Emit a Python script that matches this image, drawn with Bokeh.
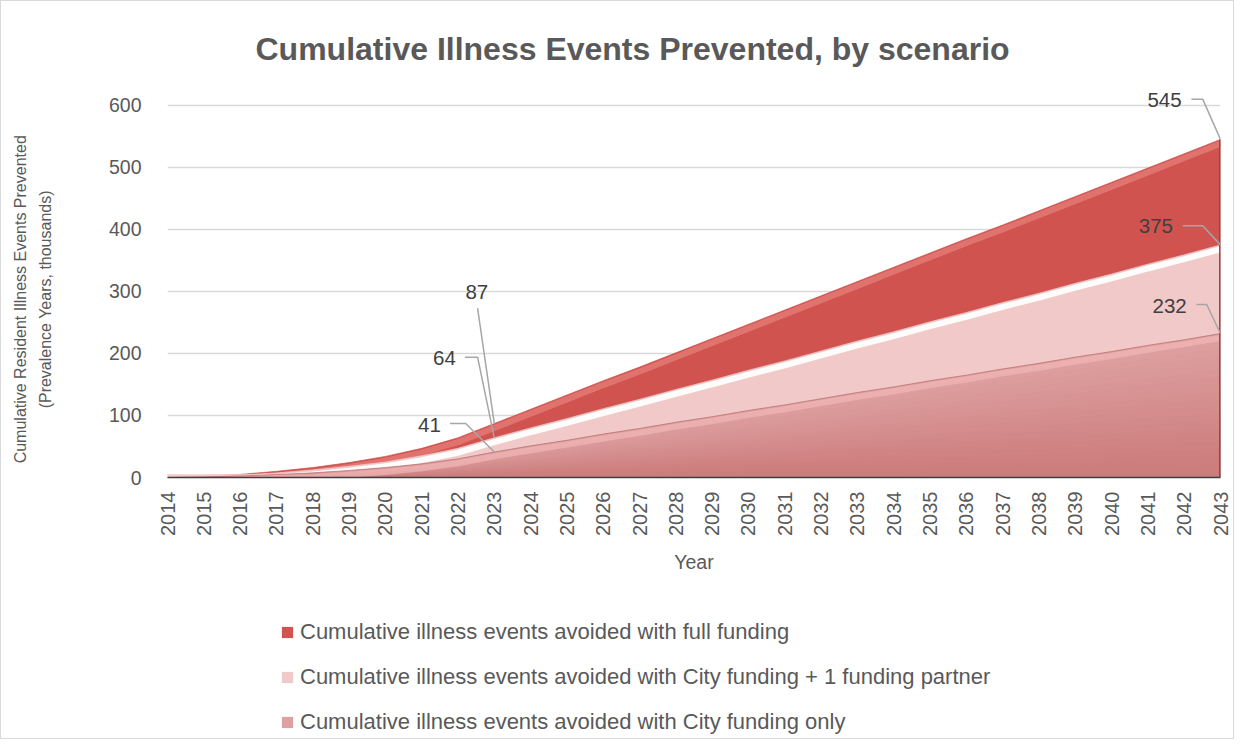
import numpy as np
from bokeh.plotting import figure
from bokeh.layouts import column
from bokeh.models import Range1d, FixedTicker, Legend, LegendItem
from bokeh.embed import file_html
from bokeh.resources import INLINE
from bokeh.core.properties import value

# ---------------- data ----------------
years = list(range(2014, 2044))
full_funding = [0, 2, 5, 10, 16, 24, 34, 47, 64, 87,
                110, 133, 156, 178, 201, 224, 247, 270, 293, 316,
                339, 362, 385, 407, 430, 453, 476, 499, 522, 545]
city_plus_one = [0, 1.5, 3.7, 7.4, 12, 18, 25, 35, 47, 64,
                 80, 95, 111, 126, 142, 157, 173, 188, 204, 220,
                 235, 251, 266, 282, 297, 313, 328, 344, 359, 375]
city_only = [0, 0.9, 2.4, 4.7, 7.5, 11.3, 16, 22, 30, 41,
             51, 60, 70, 79, 89, 98, 108, 117, 127, 137,
             146, 156, 165, 175, 184, 194, 203, 213, 222, 232]
series_names = ["Cumulative illness events avoided with full funding",
                "Cumulative illness events avoided with City funding + 1 funding partner",
                "Cumulative illness events avoided with City funding only"]
y_ticks = [0, 100, 200, 300, 400, 500, 600]

# ---------------- style ----------------
FONT = "Liberation Sans"
TXT = "#595959"
base_colors = ["#d0534f", "#f1c9c9", "#dea0a0"]
highlight_colors = ["#e8827e", "#ffffff", "#f2b6b6"]
# label offsets (dx years, dy units) for text and leader-line polyline, per (series, year)
label_layout = {
    (0, 2043): dict(t=(-1.07, 64), pts=[(-0.8, 65), (-0.49, 65), (0, 0)]),
    (1, 2043): dict(t=(-1.31, 30), pts=[(-1.04, 31), (-0.49, 31), (0, 0)]),
    (2, 2043): dict(t=(-0.93, 45), pts=[(-0.66, 47), (-0.38, 47), (0, 0)]),
    (0, 2023): dict(t=(-0.48, 212), pts=[(-0.46, 186), (0, 0)]),
    (1, 2023): dict(t=(-1.06, 128), pts=[(-0.81, 130), (-0.46, 130), (0, 0)]),
    (2, 2023): dict(t=(-1.47, 43), pts=[(-1.22, 46), (-0.79, 46), (0, 0)]),
}
NB = "\u00a0" * 8

p = figure(width=1232, height=599, output_backend="svg", toolbar_location=None,
           x_range=Range1d(2014, 2043), y_range=Range1d(0, 632),
           min_border_left=166, min_border_right=13, min_border_top=84, min_border_bottom=123)
p.outline_line_color = None
p.background_fill_color = "white"
p.border_fill_color = "white"

p.title.text = "Cumulative Illness Events Prevented, by scenario"
p.title.text_font = FONT
p.title.text_font_size = "32px"
p.title.text_font_style = "bold"
p.title.text_color = TXT
p.title.align = "left"
p.title.offset = 88
p.title.standoff = 37

x = np.array(years, dtype=float)
all_series = [np.array(full_funding, float), np.array(city_plus_one, float), np.array(city_only, float)]

for i, ys in enumerate(all_series):
    p.varea(x=x, y1=np.zeros_like(ys), y2=ys, fill_color=base_colors[i])
    if i == 2:
        # smooth vertical shading toward the base
        for k in range(20):
            frac = 1.0 - 0.05 * (k + 1)
            p.varea(x=x, y1=np.zeros_like(ys), y2=ys * frac, fill_color="#b06c6c", fill_alpha=0.03)
    # bevel highlight just below top edge
    p.line(x, np.maximum(ys - 7, 0), line_color=highlight_colors[i], line_width=6,
           line_alpha=0.7 if i != 1 else 0.95)
    p.line(x, ys, line_color="#b56a6a" if i == 2 else base_colors[i], line_width=1, line_alpha=0.7)

# right edge shadow
p.segment(x0=[years[-1]], y0=[0], x1=[years[-1]], y1=[full_funding[-1]],
          line_color="#8c4a4a", line_width=3)

# data labels with leader lines
for (si, yr), lay in label_layout.items():
    idx = years.index(yr)
    vx, vy = years[idx], all_series[si][idx]
    xs = [vx + dx for dx, dy in lay["pts"]]
    ys_ = [vy + dy for dx, dy in lay["pts"]]
    p.line(xs, ys_, line_color="#a6a6a6", line_width=1.5)
    tdx, tdy = lay["t"]
    align = "center" if len(lay["pts"]) == 2 else "right"
    p.text(x=[vx + tdx], y=[vy + tdy], text=[str(int(round(vy)))],
           text_font=value(FONT), text_font_size="20.5px", text_color="#404040",
           text_align=align, text_baseline="middle")

# axes
p.xaxis.ticker = FixedTicker(ticks=years)
p.xaxis.major_label_orientation = np.pi / 2
p.xaxis.major_label_text_font = FONT
p.xaxis.major_label_text_font_size = "20px"
p.xaxis.major_label_text_color = TXT
p.xaxis.major_label_standoff = 8
p.xaxis.major_tick_line_color = None
p.xaxis.minor_tick_line_color = None
p.xaxis.axis_line_color = "#3f3f3f"
p.xaxis.axis_line_width = 1.5
p.xaxis.axis_label = "Year"
p.xaxis.axis_label_text_font = FONT
p.xaxis.axis_label_text_font_size = "19.5px"
p.xaxis.axis_label_text_font_style = "normal"
p.xaxis.axis_label_text_color = TXT
p.xaxis.axis_label_standoff = 12

p.yaxis.ticker = FixedTicker(ticks=y_ticks)
p.yaxis.major_label_text_font = FONT
p.yaxis.major_label_text_font_size = "19.5px"
p.yaxis.major_label_text_color = TXT
p.yaxis.major_label_standoff = 20
p.yaxis.major_tick_line_color = None
p.yaxis.minor_tick_line_color = None
p.yaxis.axis_line_color = None
p.yaxis.axis_label = ("Cumulative Resident Illness Events Prevented" + NB + "\n"
                      "(Prevalence Years, thousands)" + NB)
p.yaxis.axis_label_text_font = FONT
p.yaxis.axis_label_text_font_size = "16px"
p.yaxis.axis_label_text_font_style = "normal"
p.yaxis.axis_label_text_color = TXT
p.yaxis.axis_label_text_line_height = 1.45
p.yaxis.axis_label_standoff = 52

p.xgrid.grid_line_color = None
p.ygrid.grid_line_color = "#d9d9d9"
p.ygrid.grid_line_width = 1.5

# ---------------- legend panel ----------------
lg = figure(width=1232, height=138, output_backend="svg", toolbar_location=None,
            x_axis_type=None, y_axis_type=None,
            x_range=Range1d(2014, 2043), y_range=Range1d(0, 632),
            min_border_left=0, min_border_right=0, min_border_top=0, min_border_bottom=0)
lg.outline_line_color = None
lg.xgrid.grid_line_color = None
lg.ygrid.grid_line_color = None
leg_renderers = []
for i, ys in enumerate(all_series):
    r = lg.varea(x=x, y1=np.zeros_like(ys), y2=ys, fill_color=base_colors[i])
    r.visible = False
    leg_renderers.append(r)

legend = Legend(items=[LegendItem(label=series_names[i], renderers=[leg_renderers[i]]) for i in range(3)],
                location=(113, 3))
legend.click_policy = "none"
legend.label_text_font = FONT
legend.label_text_font_size = "22px"
legend.label_text_color = TXT
legend.glyph_width = 14
legend.glyph_height = 14
legend.label_standoff = 6
legend.label_height = 25
legend.spacing = 19
legend.padding = 0
legend.margin = 0
legend.border_line_color = None
legend.background_fill_alpha = 0
lg.add_layout(legend)

layout = column(p, lg, spacing=0, styles={"border": "1px solid #d9d9d9"})

open("out.html", "w").write(file_html(layout, INLINE))
